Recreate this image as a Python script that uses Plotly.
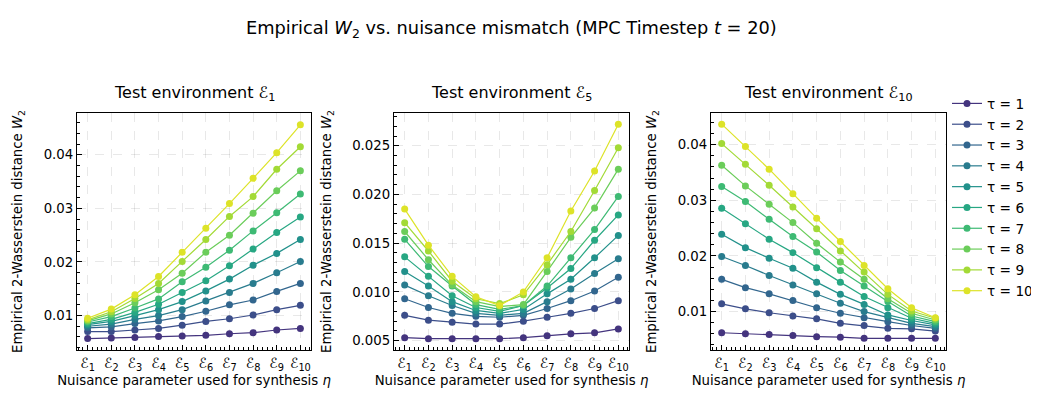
import plotly.graph_objects as go
from plotly.subplots import make_subplots
from plotly.colors import sample_colorscale

# x categories: nuisance parameter used for synthesis
env_idx = list(range(1, 11))
env_labels = [f"ℰ<sub>{i}</sub>" for i in env_idx]
tau_labels = [f"τ = {t}" for t in range(1, 11)]

# Empirical W2, rows = tau 1..10, cols = eps_1..eps_10
w2_env1 = [
    [0.0057, 0.0058, 0.0059, 0.0061, 0.0062, 0.0063, 0.0066, 0.0068, 0.0073, 0.0076],
    [0.0070, 0.0070, 0.0073, 0.0076, 0.0082, 0.0089, 0.0094, 0.0101, 0.0111, 0.0119],
    [0.0077, 0.0079, 0.0085, 0.0090, 0.0098, 0.0108, 0.0120, 0.0129, 0.0145, 0.0160],
    [0.0080, 0.0084, 0.0093, 0.0100, 0.0111, 0.0127, 0.0143, 0.0160, 0.0180, 0.0201],
    [0.0083, 0.0089, 0.0100, 0.0111, 0.0126, 0.0146, 0.0168, 0.0194, 0.0216, 0.0242],
    [0.0085, 0.0093, 0.0106, 0.0121, 0.0143, 0.0165, 0.0193, 0.0224, 0.0255, 0.0284],
    [0.0088, 0.0098, 0.0114, 0.0131, 0.0163, 0.0190, 0.0222, 0.0258, 0.0292, 0.0327],
    [0.0090, 0.0103, 0.0124, 0.0148, 0.0179, 0.0218, 0.0250, 0.0291, 0.0333, 0.0370],
    [0.0092, 0.0107, 0.0132, 0.0160, 0.0201, 0.0242, 0.0285, 0.0322, 0.0373, 0.0415],
    [0.0095, 0.0112, 0.0139, 0.0173, 0.0218, 0.0263, 0.0309, 0.0356, 0.0404, 0.0456],
]
w2_env5 = [
    [0.0053, 0.0052, 0.0052, 0.0052, 0.0052, 0.0053, 0.0055, 0.0057, 0.0058, 0.0062],
    [0.0076, 0.0071, 0.0069, 0.0067, 0.0067, 0.0070, 0.0074, 0.0078, 0.0083, 0.0091],
    [0.0093, 0.0084, 0.0078, 0.0075, 0.0074, 0.0076, 0.0083, 0.0091, 0.0101, 0.0115],
    [0.0107, 0.0096, 0.0086, 0.0078, 0.0076, 0.0078, 0.0090, 0.0103, 0.0119, 0.0134],
    [0.0121, 0.0106, 0.0090, 0.0081, 0.0078, 0.0082, 0.0098, 0.0113, 0.0135, 0.0158],
    [0.0136, 0.0116, 0.0096, 0.0084, 0.0080, 0.0086, 0.0104, 0.0124, 0.0153, 0.0179],
    [0.0154, 0.0126, 0.0106, 0.0087, 0.0082, 0.0086, 0.0106, 0.0135, 0.0164, 0.0198],
    [0.0162, 0.0133, 0.0107, 0.0090, 0.0085, 0.0087, 0.0121, 0.0156, 0.0186, 0.0226],
    [0.0171, 0.0142, 0.0111, 0.0093, 0.0088, 0.0097, 0.0128, 0.0162, 0.0204, 0.0248],
    [0.0185, 0.0148, 0.0116, 0.0095, 0.0086, 0.0100, 0.0135, 0.0183, 0.0224, 0.0272],
]
w2_env10 = [
    [0.0062, 0.0060, 0.0059, 0.0057, 0.0055, 0.0054, 0.0052, 0.0052, 0.0052, 0.0052],
    [0.0114, 0.0105, 0.0098, 0.0092, 0.0087, 0.0079, 0.0075, 0.0070, 0.0069, 0.0065],
    [0.0158, 0.0143, 0.0132, 0.0120, 0.0107, 0.0097, 0.0089, 0.0082, 0.0075, 0.0070],
    [0.0199, 0.0183, 0.0165, 0.0148, 0.0132, 0.0115, 0.0100, 0.0090, 0.0079, 0.0073],
    [0.0239, 0.0215, 0.0196, 0.0178, 0.0153, 0.0131, 0.0113, 0.0094, 0.0084, 0.0076],
    [0.0286, 0.0258, 0.0230, 0.0206, 0.0179, 0.0153, 0.0127, 0.0107, 0.0088, 0.0079],
    [0.0325, 0.0298, 0.0266, 0.0235, 0.0207, 0.0174, 0.0146, 0.0118, 0.0092, 0.0082],
    [0.0363, 0.0326, 0.0293, 0.0260, 0.0223, 0.0189, 0.0158, 0.0123, 0.0097, 0.0085],
    [0.0402, 0.0365, 0.0327, 0.0288, 0.0249, 0.0209, 0.0171, 0.0131, 0.0101, 0.0088],
    [0.0437, 0.0397, 0.0356, 0.0312, 0.0268, 0.0226, 0.0183, 0.0141, 0.0107, 0.0089],
]

panel_titles = ["Test environment ℰ<sub>1</sub>", "Test environment ℰ<sub>5</sub>",
                "Test environment ℰ<sub>10</sub>"]
panels = [w2_env1, w2_env5, w2_env10]

W, H = 1039, 396
FONT = "DejaVu Sans"
colors = sample_colorscale("Viridis", [0.15 + 0.8 * i / 9 for i in range(10)])

fig = make_subplots(rows=1, cols=3)

for p, data in enumerate(panels):
    for t, row in enumerate(data):
        fig.add_trace(
            go.Scatter(
                x=env_idx, y=row, name=tau_labels[t], mode="lines+markers",
                line=dict(color=colors[t], width=1.2),
                marker=dict(color=colors[t], size=7),
                showlegend=(p == 0), legendgroup=tau_labels[t],
            ),
            row=1, col=p + 1,
        )

# pixel boxes of the three panels
x_dom = [(69, 303), (386, 621), (703, 938)]
y_dom = (105, 342)
y_ranges = [(0.00357, 0.0478), (0.00404, 0.02836), (0.0031, 0.0457)]
y_dticks = [(0.01, 0.002, ".2f"), (0.005, 0.001, ".3f"), (0.01, 0.002, ".2f")]

grid = dict(showgrid=True, gridcolor="rgba(0,0,0,0.09)", griddash="dash", gridwidth=0.8)
for i in range(3):
    n = "" if i == 0 else str(i + 1)
    fig.layout["xaxis" + n].update(
        domain=[x_dom[i][0] / W, x_dom[i][1] / W],
        range=[0.55, 10.45], tickmode="array", tickvals=env_idx, ticktext=env_labels,
        ticks="inside", ticklen=4.5, tickwidth=1, tickcolor="black",
        minor=dict(tickmode="linear", tick0=1, dtick=0.2, ticks="inside",
                   ticklen=2.5, tickcolor="black", showgrid=False),
        showline=True, linecolor="black", linewidth=1.2, mirror=True,
        tickfont=dict(size=14, color="black"), zeroline=False,
        title=dict(text="Nuisance parameter used for synthesis <i>η</i>",
                   font=dict(size=13.3, color="black"), standoff=0),
        **grid,
    )
    major, minor, fmt = y_dticks[i]
    fig.layout["yaxis" + n].update(
        domain=[1 - y_dom[1] / H, 1 - y_dom[0] / H],
        range=list(y_ranges[i]), dtick=major, tick0=0, tickformat=fmt,
        ticks="inside", ticklen=4.5, tickwidth=1, tickcolor="black",
        minor=dict(dtick=minor, tick0=0, ticks="inside", ticklen=2.5,
                   tickcolor="black", showgrid=False),
        showline=True, linecolor="black", linewidth=1.2, mirror=True,
        tickfont=dict(size=13.3, color="black"), zeroline=False,
        title=dict(text="Empirical 2-Wasserstein distance <i>W</i><sub>2</sub>",
                   font=dict(size=13.3, color="black"), standoff=17),
        **grid,
    )
    fig.add_annotation(
        text=panel_titles[i], xref="paper", yref="paper",
        x=(x_dom[i][0] + x_dom[i][1]) / 2 / W, y=1 - 86 / H,
        showarrow=False, font=dict(size=16, color="black", family=FONT),
        xanchor="center", yanchor="middle",
    )

fig.update_layout(
    width=W, height=H,
    margin=dict(l=0, r=0, t=0, b=0),
    paper_bgcolor="white", plot_bgcolor="white",
    font=dict(family=FONT, color="black", size=13.3),
    title=dict(text="Empirical <i>W</i><sub>2</sub> vs. nuisance mismatch (MPC Timestep <i>t</i> = 20)",
               x=0.4845, xanchor="center", y=1 - 20 / H, yanchor="middle",
               font=dict(size=17.8, color="black")),
    legend=dict(x=939 / W, y=1 - 80 / H, xanchor="left", yanchor="top",
                font=dict(size=13.7, color="black"), bgcolor="rgba(0,0,0,0)",
                borderwidth=0, tracegroupgap=0),
    showlegend=True,
)

fig.write_html("out.html")
